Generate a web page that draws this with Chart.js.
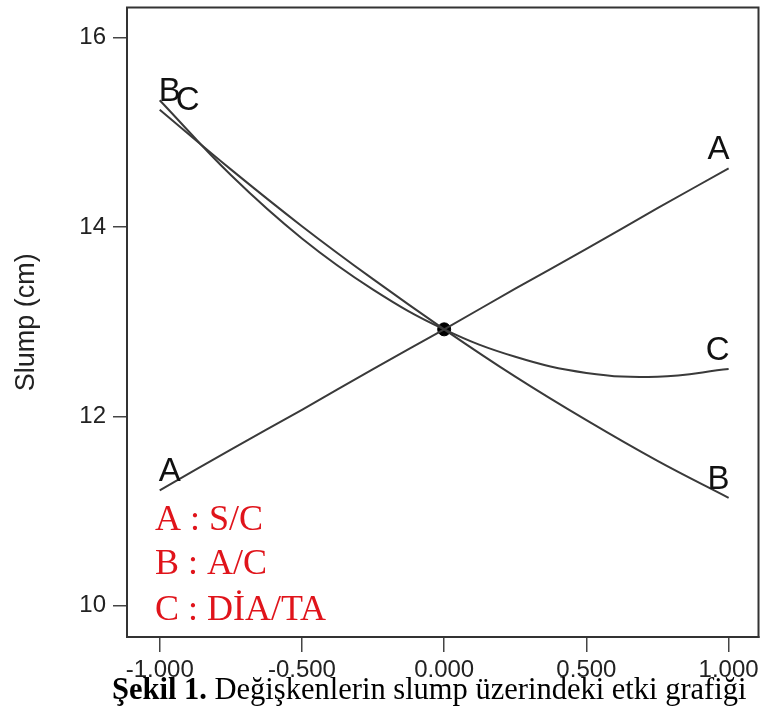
<!DOCTYPE html>
<html>
<head>
<meta charset="utf-8">
<script src="https://cdn.jsdelivr.net/npm/chart.js@4/dist/chart.umd.min.js"></script>
<style>
  html, body { margin: 0; padding: 0; background: #fff; }
  #wrap { position: relative; width: 766px; height: 720px; }
  #c { display: block; }
  #caption { position: absolute; left: 0; width: 766px; top: 672px; text-align: left; padding-left: 112px; box-sizing: border-box;
             font-family: "Liberation Serif", "Times New Roman", serif; font-size: 30.5px; color: #000; white-space: nowrap; line-height: 34px; }
</style>
</head>
<body>
<div id="wrap">
  <canvas id="c" width="766" height="720"></canvas>
  <div id="caption"><b>Şekil 1.</b> Değişkenlerin slump üzerindeki etki grafiği</div>
</div>
<script>
// ---- data ----
const xValues = [-1, -0.75, -0.5, -0.25, 0, 0.25, 0.5, 0.75, 1];
const seriesA = [11.22, 11.65, 12.07, 12.50, 12.92, 13.35, 13.77, 14.20, 14.62];
const seriesB = [15.24, 14.61, 14.01, 13.45, 12.92, 12.42, 11.96, 11.53, 11.14];
const seriesC = [15.34, 14.55, 13.88, 13.34, 12.92, 12.63, 12.46, 12.42, 12.50];
const centerX = [0];
const centerY = [12.92];
const seriesNames = ['A', 'B', 'C'];
const legendLines = ['A : S/C', 'B : A/C', 'C : DİA/TA'];
const yTicks = [10, 12, 14, 16];
const xTicks = [-1, -0.5, 0, 0.5, 1];
const yTitle = 'Slump (cm)';

const toPts = (ys) => xValues.map((x, i) => ({ x: x, y: ys[i] }));
const lineColor = '#3a3a3a';

const lineDs = (name, ys) => ({
  label: name, data: toPts(ys), showLine: true, borderColor: lineColor, borderWidth: 2,
  pointRadius: 0, pointHoverRadius: 0, tension: 0.4, fill: false
});

const framePlugin = {
  id: 'frame',
  beforeDatasetsDraw(chart) {
    const { ctx, chartArea: a } = chart;
    ctx.save();
    ctx.strokeStyle = '#333';
    ctx.lineWidth = 2;
    ctx.strokeRect(a.left, a.top, a.right - a.left, a.bottom - a.top);
    ctx.restore();
  }
};

const labelPlugin = {
  id: 'lineLabels',
  afterDatasetsDraw(chart) {
    const { ctx, chartArea: a } = chart;
    const xs = chart.scales.x, ys = chart.scales.y;
    ctx.save();
    ctx.fillStyle = '#111';
    ctx.font = '33px "Liberation Sans", Arial, sans-serif';
    ctx.textBaseline = 'alphabetic';
    [seriesA, seriesB, seriesC].forEach((s, i) => {
      const name = seriesNames[i];
      let px = xs.getPixelForValue(xValues[0]);
      let py = ys.getPixelForValue(s[0]);
      let dx = -1, dy = -9;
      if (name === 'C') { dx = 16; dy = 10; }
      ctx.textAlign = 'left';
      ctx.fillText(name, px + dx, py + dy);
      const n = xValues.length - 1;
      px = xs.getPixelForValue(xValues[n]);
      py = ys.getPixelForValue(s[n]);
      ctx.textAlign = 'right';
      ctx.fillText(name, px + 1, py - 9);
    });
    ctx.fillStyle = '#e0141b';
    ctx.font = '36px "Liberation Serif", "Times New Roman", serif';
    ctx.textAlign = 'left';
    const base = [a.bottom - 107, a.bottom - 63, a.bottom - 17];
    legendLines.forEach((t, i) => ctx.fillText(t, a.left + 28, base[i]));
    ctx.restore();
  }
};

new Chart(document.getElementById('c'), {
  type: 'scatter',
  data: {
    datasets: [
      lineDs(seriesNames[0], seriesA),
      lineDs(seriesNames[1], seriesB),
      lineDs(seriesNames[2], seriesC),
      { label: 'center', data: centerX.map((x, i) => ({ x: x, y: centerY[i] })), pointRadius: 6.5,
        pointBackgroundColor: '#000', pointBorderColor: '#000', showLine: false }
    ]
  },
  options: {
    responsive: false,
    animation: false,
    events: [],
    layout: { padding: { left: 0, top: 4, right: 6, bottom: 33 } },
    plugins: { legend: { display: false }, tooltip: { enabled: false } },
    scales: {
      x: {
        type: 'linear', min: -1.115, max: 1.105,
        afterBuildTicks: (s) => { s.ticks = xTicks.map(v => ({ value: v })); },
        afterFit: (s) => { s.height = 50; s.paddingLeft = 0; s.paddingRight = 0; },
        grid: { display: true, drawOnChartArea: false, drawTicks: true, tickLength: 15, color: '#444', lineWidth: 1.5 },
        border: { display: true, color: '#333', width: 2 },
        ticks: { color: '#222', padding: 4, maxRotation: 0, autoSkip: false,
                 font: { family: '"Liberation Sans", Arial, sans-serif', size: 24 },
                 callback: (v) => Number(v).toFixed(3) }
      },
      y: {
        type: 'linear', min: 9.67, max: 16.32,
        afterBuildTicks: (s) => { s.ticks = yTicks.map(v => ({ value: v })); },
        afterFit: (s) => { s.width = 127; s.paddingTop = 0; s.paddingBottom = 0; },
        grid: { display: true, drawOnChartArea: false, drawTicks: true, tickLength: 14, color: '#444', lineWidth: 1.5 },
        border: { display: true, color: '#333', width: 2 },
        ticks: { color: '#222', padding: 7, font: { family: '"Liberation Sans", Arial, sans-serif', size: 24 },
                 callback: (v) => String(v) },
        title: { display: true, text: yTitle, color: '#222', padding: { top: 10, bottom: 0 },
                 font: { family: '"Liberation Sans", Arial, sans-serif', size: 27 } }
      }
    }
  },
  plugins: [framePlugin, labelPlugin]
});
</script>
</body>
</html>
